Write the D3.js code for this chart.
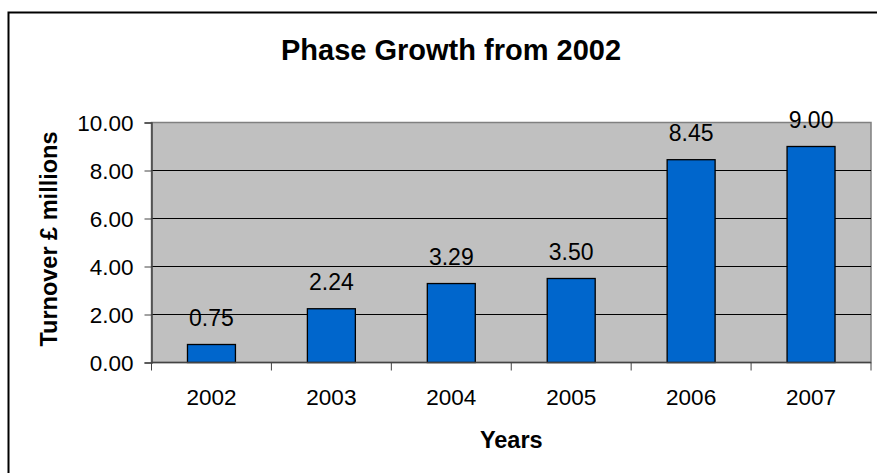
<!DOCTYPE html>
<html>
<head>
<meta charset="utf-8">
<script src="https://cdn.jsdelivr.net/npm/d3@7"></script>
<style>
  body { margin: 0; background: #fff; }
  text { font-family: "Liberation Sans", Arial, sans-serif; }
</style>
</head>
<body>
<div id="chart"></div>
<script>
const WIDTH = 877;
const HEIGHT = 473;

const years = ["2002", "2003", "2004", "2005", "2006", "2007"];
const turnover = [0.75, 2.24, 3.29, 3.50, 8.45, 9.00];
const yTicks = [0, 2, 4, 6, 8, 10];

const margin = { top: 122.5, right: 6, bottom: 110.5, left: 151.5 };
const w = WIDTH - margin.left - margin.right;
const h = HEIGHT - margin.top - margin.bottom;

const FS = 22.5;

const svg = d3.select("#chart").append("svg").attr("width", WIDTH).attr("height", HEIGHT);

// outer chart border (runs off the right and bottom)
svg.append("rect")
  .attr("x", 8.5).attr("y", 12.5)
  .attr("width", 900).attr("height", 500)
  .attr("fill", "none").attr("stroke", "#000").attr("stroke-width", 2);

svg.append("text")
  .attr("x", 451).attr("y", 60)
  .attr("text-anchor", "middle")
  .attr("font-weight", "bold").attr("font-size", 29)
  .text("Phase Growth from 2002");

const g = svg.append("g").attr("transform", "translate(" + margin.left + "," + margin.top + ")");

const x = d3.scaleBand().domain(years).range([0, w]).paddingInner(0.6).paddingOuter(0.3);
const y = d3.scaleLinear().domain([0, 10]).range([h, 0]);

g.append("rect")
  .attr("width", w).attr("height", h)
  .attr("fill", "#c0c0c0").attr("stroke", "#808080").attr("stroke-width", 1.5);

// gridlines
g.selectAll(".grid")
  .data(yTicks.filter(d => d > 0 && d < 10))
  .join("line")
  .attr("x1", 0).attr("x2", w)
  .attr("y1", d => y(d)).attr("y2", d => y(d))
  .attr("stroke", "#000").attr("stroke-width", 1);

g.selectAll(".bar")
  .data(turnover)
  .join("rect")
  .attr("x", (d, i) => x(years[i]))
  .attr("y", d => y(d))
  .attr("width", x.bandwidth())
  .attr("height", d => h - y(d))
  .attr("fill", "#0066cc").attr("stroke", "#000").attr("stroke-width", 1.3);

g.selectAll(".lbl")
  .data(turnover)
  .join("text")
  .attr("x", (d, i) => x(years[i]) + x.bandwidth() / 2)
  .attr("y", d => y(d) - 19)
  .attr("text-anchor", "middle")
  .attr("font-size", 23)
  .text(d => d.toFixed(2));

// y axis
const ejeY = d3.axisLeft(y).tickValues(yTicks).tickSize(7).tickPadding(11).tickFormat(d3.format(".2f"));
const gy = g.append("g").call(ejeY);
gy.select(".domain").attr("stroke", "#444").attr("stroke-width", 1.5);
gy.selectAll(".tick line").attr("stroke", "#444");
gy.selectAll(".tick text").attr("font-size", FS).attr("fill", "#000").attr("dy", "0.36em")
  .style("font-family", "'Liberation Sans', Arial, sans-serif");

// x axis with ticks on category boundaries
const step = w / years.length;
const gx = g.append("g").attr("transform", "translate(0," + h + ")");
gx.append("line").attr("x1", 0).attr("x2", w).attr("stroke", "#444").attr("stroke-width", 1.5);
gx.selectAll(".xt")
  .data(d3.range(years.length + 1))
  .join("line")
  .attr("x1", i => i * step).attr("x2", i => i * step)
  .attr("y1", 0).attr("y2", 8)
  .attr("stroke", "#444");
gx.selectAll(".xl")
  .data(years)
  .join("text")
  .attr("x", d => x(d) + x.bandwidth() / 2)
  .attr("y", 42.5)
  .attr("text-anchor", "middle")
  .attr("font-size", FS)
  .text(d => d);

svg.append("text")
  .attr("x", margin.left + w / 2).attr("y", 448)
  .attr("text-anchor", "middle")
  .attr("font-weight", "bold").attr("font-size", 23.5)
  .text("Years");

svg.append("text")
  .attr("transform", "translate(57," + (margin.top + h / 2 - 3.5) + ") rotate(-90)")
  .attr("text-anchor", "middle")
  .attr("font-weight", "bold").attr("font-size", 23.5)
  .text("Turnover £ millions");
</script>
</body>
</html>
